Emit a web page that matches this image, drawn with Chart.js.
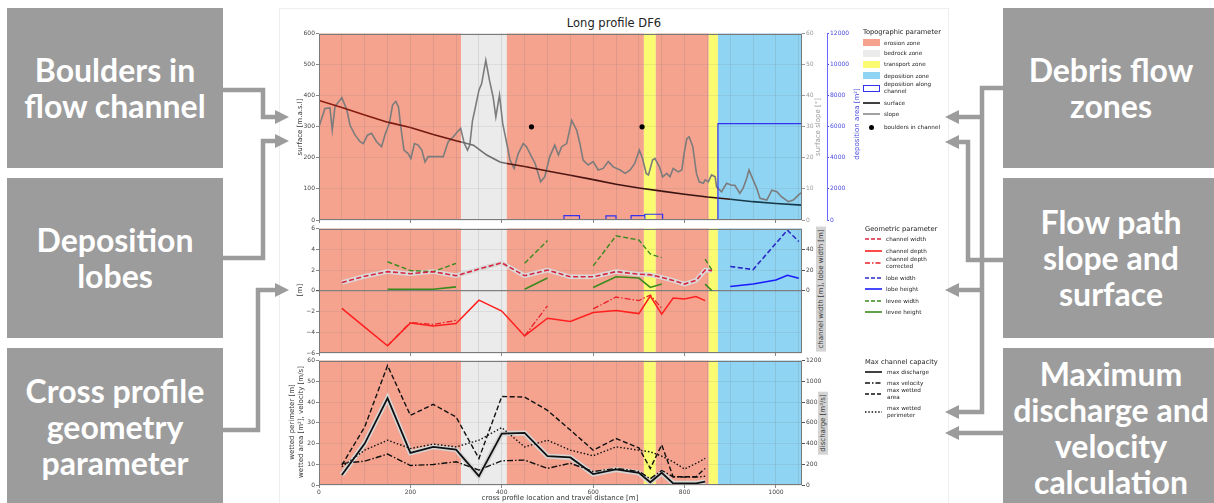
<!DOCTYPE html>
<html><head><meta charset="utf-8">
<script src="https://cdn.jsdelivr.net/npm/chart.js@4/dist/chart.umd.min.js"></script>
<style>
html,body{margin:0;padding:0}
body{width:1214px;height:503px;background:#fff;position:relative;overflow:hidden;font-family:"DejaVu Sans",sans-serif;color:#333}
.box{position:absolute;width:216px;background:#9c9c9c;color:#fff;font-family:Lato,"Open Sans",sans-serif;font-weight:700;font-size:32px;line-height:36px;display:flex;align-items:center;justify-content:center;text-align:center}
.fig{position:absolute;left:279px;top:8px;width:668px;height:500px;border:1px solid #eeeeee;background:#fff}
canvas{position:absolute}
.rot{position:absolute;white-space:nowrap;font-size:7px;line-height:8px;transform:translate(-50%,-50%) rotate(-90deg)}
.lbl{position:absolute;white-space:nowrap;font-size:7px;transform:translate(-50%,-50%)}
.lgt{position:absolute;white-space:nowrap;font-size:6.7px;color:#222;transform:translateY(-50%)}
.lgi{position:absolute;white-space:nowrap;font-size:5.7px;line-height:7px;color:#222;transform:translateY(-50%)}
.title{position:absolute;left:614px;top:23px;transform:translate(-50%,-50%);font-size:11.5px;color:#222;white-space:nowrap}
</style>
</head><body>
<div class="box" style="left:7px;top:8px;height:160px">Boulders in<br>flow channel</div>
<div class="box" style="left:7px;top:178px;height:160px">Deposition<br>lobes</div>
<div class="box" style="left:7px;top:348px;height:158px">Cross profile<br>geometry<br>parameter</div>
<div class="box" style="left:1003px;top:8px;height:160px">Debris flow<br>zones</div>
<div class="box" style="left:1003px;top:178px;height:160px">Flow path<br>slope and<br>surface</div>
<div class="box" style="left:1003px;top:348px;height:160px">Maximum<br>discharge and<br>velocity<br>calculation</div>
<div class="fig"></div>
<div class="title">Long profile DF6</div>
<canvas id="c1" width="600" height="197" style="left:280px;top:29px;width:600px;height:197px"></canvas>
<canvas id="c2" width="600" height="135" style="left:280px;top:224px;width:600px;height:135px"></canvas>
<canvas id="c3" width="600" height="147" style="left:280px;top:356px;width:600px;height:147px"></canvas>
<div class="rot" style="left:300px;top:127px">surface [m.a.s.l]</div>
<div class="rot" style="left:818px;top:127px;color:#999">surface slope [°]</div>
<div class="rot" style="left:857px;top:124px;color:#4a4ae0">deposition area [m²]</div>
<div class="rot" style="left:300px;top:290px">[m]</div>
<div class="rot" style="left:821px;top:289px;background:#d4d4d4;padding:1px 3px;color:#333">channel width [m], lobe width [m]</div>
<div class="rot" style="left:292px;top:422px">wetted perimeter [m]</div>
<div class="rot" style="left:301px;top:422px">wetted area [m²], velocity [m/s]</div>
<div class="rot" style="left:823px;top:423px;background:#d4d4d4;padding:1px 3px;color:#333">discharge [m³/s]</div>
<div class="lbl" style="left:560px;top:498px">cross profile location and travel distance [m]</div>
<div id="legends"></div>
<svg width="1214" height="503" style="position:absolute;left:0;top:0" id="arrows">
 <g fill="none" stroke="#9c9c9c" stroke-width="4.5" stroke-linejoin="miter">
  <polyline points="223,90 263,90 263,117 277,117"/>
  <polyline points="223,258 263,258 263,141 277,141"/>
  <polyline points="223,430 258,430 258,290 277,290"/>
  <polyline points="1003,88 982,88 982,412 957,412"/>
  <polyline points="982,117 957,117"/>
  <polyline points="982,290 957,290"/>
  <polyline points="1003,260 968,260 968,142 957,142"/>
  <polyline points="1003,433 957,433"/>
 </g>
 <g fill="#9c9c9c">
  <polygon points="275,110 289,117 275,124"/>
  <polygon points="275,134 289,141 275,148"/>
  <polygon points="275,283 289,290 275,297"/>
  <polygon points="959,110 945,117 959,124"/>
  <polygon points="959,135 945,142 959,149"/>
  <polygon points="959,283 945,290 959,297"/>
  <polygon points="959,405 945,412 959,419"/>
  <polygon points="959,426 945,433 959,440"/>
 </g>
</svg>
<script>
// ---------------- DATA ----------------
const xMax = 1057;
const xTickValues = [0,50,100,150,200,250,300,350,400,450,500,550,600,650,700,750,800,850,900,950,1000,1050];
const zoneStart = [0, 311, 411, 711, 737, 853, 873];
const zoneEnd   = [311, 411, 711, 737, 853, 873, 1057];
const zoneType  = ['erosion','bedrock','erosion','transport','erosion','transport','deposition'];

const surfaceX    = [0,50,100,150,200,250,300,311,338,367,396,411,450,500,550,600,650,700,750,800,850,900,950,1000,1057];
const surfaceElev = [385,362,338,315,298,275,255,251,241,209,187,182,172,158,144,130,115,103,93,83,74,67,59,53,48];

const slopeX = [0,13,24,29,35,50,61,68,79,90,97,106,115,126,137,144,154,161,168,174,179,186,195,201,209,217,225,232,239,250,265,272,279,283,294,303,310,318,325,330,336,341,350,356,365,373,381,387,395,402,411,418,427,436,447,454,465,473,485,494,505,516,524,531,542,553,564,571,578,589,600,611,622,633,644,659,670,681,691,701,708,716,721,730,735,745,752,761,768,775,786,794,799,805,810,818,826,832,841,845,852,859,867,870,881,892,903,910,921,928,936,941,950,958,965,980,991,1002,1012,1027,1038,1049,1056];
const slopeDeg = [30.0,35.9,36.1,28.9,36.5,39.4,35.4,30.5,27.3,25.2,24.6,27.3,27.9,25.2,23.6,27.3,31.1,37.0,38.2,36.4,30.0,22.5,21.4,19.8,24.6,24.1,22.5,18.7,20.4,20.4,20.4,20.4,23.6,25.2,26.8,28.4,29.5,24.6,22.5,24.1,32.1,35.4,41.8,43.9,51.4,45.0,39.6,33.2,40.2,31.1,24.6,19.3,16.6,21.4,24.6,23.6,20.4,18.2,12.3,13.9,20.4,24.1,20.9,23.6,24.6,32.1,28.9,24.6,19.3,17.7,18.8,16.1,16.6,18.8,17.1,16.1,15.0,16.1,18.2,22.5,19.8,15.0,14.5,19.3,19.8,17.1,13.9,15.0,13.9,16.6,15.5,16.1,21.4,26.2,26.8,23.6,15.0,12.3,11.8,12.9,12.3,14.5,13.9,10.7,9.1,11.8,11.2,11.2,8.6,10.2,13.4,16.1,12.9,10.2,7.0,6.4,9.6,9.1,7.5,5.9,6.4,8.0,8.8];

const boulderX = [465, 707];
const boulderY = [300, 300];

const depStart = [536, 628, 683, 713, 873];
const depEnd   = [570, 650, 713, 752, 1057];
const depArea  = [280, 260, 280, 370, 6200];

const profX          = [50,100,150,200,250,300,350,400,450,500,550,600,650,700,725,750,775,800,825,845,860];
const channelWidth   = [8,14,18.5,16.5,18.5,14.5,21,27,14.5,20,13.5,13.5,18.5,16,15.5,13,10,6.5,10,20,19.5];
const channelDepth   = [-1.7,-3.5,-5.3,-3.1,-3.4,-3.15,-0.9,-1.95,-4.35,-2.65,-2.95,-2.1,-1.9,-2.2,-0.5,-2.25,-0.7,-0.8,-0.55,-0.95,null];
const depthCorrected = [null,null,-5.3,-3.05,-3.25,-2.85,null,null,-4.35,-1.45,null,-1.75,-0.6,-0.95,-0.4,-1.7,null,null,null,null,null];
const leveeWidth     = [null,null,28,19.5,18.5,26.5,null,null,26.5,48.5,null,24,53,49,35.5,32,null,null,null,30.5,20];
const leveeHeight    = [null,null,0.15,0.15,0.15,0.38,null,null,0.15,1.23,null,0.32,1.35,1.23,0.32,0.65,null,null,null,0.65,0];

const lobeX      = [900, 950, 1000, 1025, 1050];
const lobeWidth  = [23.5, 20.5, null, 58.5, 47.5];
const lobeHeight = [0.42, 0.65, 1.05, 1.5, 1.22];

const maxDischarge = [96,400,838,310,368,342,86,496,502,278,266,106,150,118,26,118,16,16,16,32,null];
const maxVelocity  = [10.4,11.5,14.9,9.4,9.9,11.2,7.2,11.7,12,8,10.5,6.5,8,6.5,3,7,4,3.8,3.8,4.2,null];
const wettedArea   = [9.6,28,57.6,33.6,38.9,32.8,12.8,42.7,42.4,36,26.5,16.8,22.4,17.9,8,19.4,4,4,4,8,null];
const wettedPerim  = [8.8,16.8,21.6,17.6,19.7,18.4,21.6,27.7,18.4,21.6,16.8,14.1,18.4,16.8,16,13.9,11.2,7.7,10.4,12.8,null];

// ---------------- STYLE ----------------
const zoneColor = {erosion:'#f5a38f', bedrock:'#ebebeb', transport:'#fbfb72', deposition:'#8fd4f2'};
const DEP_BLUE = '#3232f0';
const DASH = [5,2.5], DASHDOT = [6,2,1.5,2], DOT = [1.5,2];

Chart.defaults.font.family = "'DejaVu Sans', sans-serif";
Chart.defaults.font.size = 6;
Chart.defaults.color = '#444';

function zoneAt(x){ for (let i=0;i<zoneStart.length;i++){ if (x>=zoneStart[i] && x<zoneEnd[i]) return zoneType[i]; } return 'deposition'; }

const zonesPlugin = {
  id:'zones',
  beforeDraw(chart){
    const {ctx, chartArea:a} = chart; const x = chart.scales.x;
    ctx.save();
    for (let i=0;i<zoneStart.length;i++){
      const x0 = x.getPixelForValue(zoneStart[i]), x1 = x.getPixelForValue(zoneEnd[i]);
      ctx.fillStyle = zoneColor[zoneType[i]];
      ctx.fillRect(x0, a.top, x1-x0, a.bottom-a.top);
    }
    ctx.restore();
  },
  afterDraw(chart){
    const {ctx, chartArea:a} = chart;
    ctx.save(); ctx.strokeStyle = '#7a7a7a'; ctx.lineWidth = 1;
    ctx.strokeRect(Math.round(a.left)+0.5, Math.round(a.top)+0.5, Math.round(a.right-a.left)-1, Math.round(a.bottom-a.top)-1);
    ctx.restore();
  }
};

const fixW = w => s => { s.width = w; };
const fixH = h => s => { s.height = h; };
const minus = v => String(v).replace('-', '\u2212');
const plain = v => String(v);

function xScale(showLabels, h){
  return {type:'linear', min:0, max:xMax,
    afterBuildTicks: s => { s.ticks = xTickValues.map(v => ({value:v})); },
    afterFit: fixH(h),
    ticks:{autoSkip:false, maxRotation:0, padding:1, color:'#444', callback: v => (showLabels && v%200===0) ? String(v) : ''},
    grid:{color:'rgba(100,100,100,0.22)', lineWidth:0.7, tickLength:3,
      tickColor: c => (c.tick && c.tick.value%200===0) ? '#555' : 'rgba(0,0,0,0)'},
    border:{display:false}};
}
function leftY(min,max,step,extraGrid){
  return {position:'left', min, max, afterFit: fixW(39),
    ticks:{stepSize:step, padding:1, color:'#444', callback: minus},
    grid:{color: c => (extraGrid && c.tick && c.tick.value===0) ? '#808080' : 'rgba(100,100,100,0.16)',
          lineWidth: c => (extraGrid && c.tick && c.tick.value===0) ? 1.2 : 0.7, tickLength:3, tickColor:'#555'},
    border:{display:false}};
}
function line(label, xs, ys, axis, color, width, dash, order, spanGaps){
  return {label, data: xs.map((x,i)=>({x, y: ys[i]})), yAxisID: axis, borderColor: color, borderWidth: width,
    borderDash: dash || [], pointRadius:0, fill:false, tension:0, order, spanGaps: !!spanGaps};
}
function surfaceColor(ctx){
  const x0 = ctx.p0.parsed.x, z = zoneAt(x0);
  if (z==='bedrock') return '#6e6e6e';
  if (z==='deposition') return '#17394a';
  if (z==='transport') return '#3a2a12';
  const t = Math.min(1, x0/711);
  return 'rgb(' + Math.round(140-85*t) + ',' + Math.round(28-10*t) + ',16)';
}
const baseOpts = {responsive:false, animation:false, devicePixelRatio:1,
  layout:{padding:{top:4,bottom:0,left:0,right:0}},
  plugins:{legend:{display:false}, tooltip:{enabled:false}}};

// deposition rectangles (outline) built from the arrays
const depPts = [];
depStart.forEach((s,i) => { depPts.push({x:s,y:0},{x:s,y:depArea[i]},{x:depEnd[i],y:depArea[i]},{x:depEnd[i],y:0},{x:depEnd[i],y:null}); });

new Chart(document.getElementById('c1'), {
  type:'line',
  data:{datasets:[
    {label:'boulders in channel', data: boulderX.map((x,i)=>({x,y:boulderY[i]})), yAxisID:'y', showLine:false,
      pointRadius:2.6, pointBackgroundColor:'#000', pointBorderWidth:0, order:0},
    {label:'deposition along channel', data: depPts, yAxisID:'yDep', borderColor:DEP_BLUE, borderWidth:1.2, pointRadius:0, spanGaps:false, order:1},
    Object.assign(line('surface', surfaceX, surfaceElev, 'y', '#7a1c12', 1.6, null, 2), {segment:{borderColor: surfaceColor}}),
    line('slope', slopeX, slopeDeg, 'ySlope', '#7c7c7c', 1.6, null, 3)
  ]},
  options: Object.assign({}, baseOpts, {scales:{
    x: xScale(false, 6),
    y: leftY(0,600,100,false),
    ySlope: {position:'right', min:0, max:60, afterFit: fixW(25), ticks:{stepSize:10, padding:1, color:'#9a9a9a', callback: plain},
      grid:{drawOnChartArea:false, tickLength:3, tickColor:'#9a9a9a'}, border:{display:false}},
    yDep: {position:'right', min:0, max:12000, afterFit: fixW(53), ticks:{stepSize:2000, padding:1, color:'#4a4ae0', callback: plain},
      grid:{drawOnChartArea:false, tickLength:2, tickColor:'#4a4ae0'}, border:{display:true, color:'#6a6aff', width:1}}
  }}),
  plugins:[zonesPlugin]
});

new Chart(document.getElementById('c2'), {
  type:'line',
  data:{datasets:[
    line('channel width', profX, channelWidth, 'yW', '#d8243e', 1.6, DASH, 1, true),
    line('channel depth', profX, channelDepth, 'y', '#ff1f1f', 1.5, null, 2, true),
    line('channel depth corrected', profX, depthCorrected, 'y', '#e8202a', 1.3, DASHDOT, 3, false),
    line('levee width', profX, leveeWidth, 'yW', '#3a8a1e', 1.4, DASH, 4, false),
    line('levee height', profX, leveeHeight, 'y', '#3a8a1e', 1.6, null, 5, false),
    line('lobe width', lobeX, lobeWidth, 'yW', '#2a2ac8', 1.6, DASH, 6, true),
    line('lobe height', lobeX, lobeHeight, 'y', '#1a1aff', 1.6, null, 7, true),
    line('channel width halo', profX, channelWidth, 'yW', '#d9d9d9', 4.5, null, 9, true)
  ]},
  options: Object.assign({}, baseOpts, {scales:{
    x: xScale(false, 6),
    y: leftY(-6,6,2,true),
    yW: {position:'right', min:-60, max:60, afterFit: fixW(78),
      ticks:{stepSize:20, padding:1, color:'#444', callback: v => (v>=0 && v<60) ? String(v) : ''},
      grid:{drawOnChartArea:false, tickLength:3, tickColor: c => (c.tick && c.tick.value>=0 && c.tick.value<60) ? '#555' : 'rgba(0,0,0,0)'},
      border:{display:false}}
  }}),
  plugins:[zonesPlugin]
});

new Chart(document.getElementById('c3'), {
  type:'line',
  data:{datasets:[
    line('max discharge', profX, maxDischarge, 'yQ', '#111', 1.8, null, 1, false),
    line('max velocity', profX, maxVelocity, 'y', '#111', 1.4, DASHDOT, 2, false),
    line('max wetted area', profX, wettedArea, 'y', '#111', 1.4, DASH, 3, false),
    line('max wetted perimeter', profX, wettedPerim, 'y', '#111', 1.4, DOT, 4, false),
    line('discharge halo', profX, maxDischarge, 'yQ', '#d6d6d6', 5, null, 9, false)
  ]},
  options: Object.assign({}, baseOpts, {scales:{
    x: xScale(true, 18),
    y: leftY(0,60,10,false),
    yQ: {position:'right', min:0, max:1200, afterFit: fixW(78), ticks:{stepSize:200, padding:1, color:'#444', callback: plain},
      grid:{drawOnChartArea:false, tickLength:3, tickColor:'#555'}, border:{display:false}}
  }}),
  plugins:[zonesPlugin]
});

// ---------------- LEGENDS (HTML) ----------------
function sw(kind, x, y, o){
  if (kind==='patch') return '<div style="position:absolute;left:'+x+'px;top:'+(y-3.5)+'px;width:17px;height:7px;box-sizing:border-box;background:'+(o.fill||'none')+';'+(o.stroke?'border:1.3px solid '+o.stroke+';':'')+'"></div>';
  if (kind==='dot') return '<div style="position:absolute;left:'+(x+6)+'px;top:'+(y-2.5)+'px;width:5px;height:5px;border-radius:50%;background:#000"></div>';
  return '<svg width="17" height="8" style="position:absolute;left:'+x+'px;top:'+(y-4)+'px"><line x1="0" y1="4" x2="17" y2="4" stroke="'+o.color+'" stroke-width="'+(o.w||1.6)+'" stroke-dasharray="'+(o.dash||'')+'"/></svg>';
}
function legend(x, tx, titleY, title, items){
  let h = '<div class="lgt" style="left:'+x+'px;top:'+titleY+'px">'+title+'</div>';
  items.forEach(it => { h += sw(it[0], x, it[1], it[3]) + '<div class="lgi" style="left:'+tx+'px;top:'+it[1]+'px">'+it[2]+'</div>'; });
  return h;
}
document.getElementById('legends').innerHTML =
  legend(863, 884, 31.7, 'Topographic parameter', [
    ['patch', 42.7, 'erosion zone', {fill:zoneColor.erosion}],
    ['patch', 53.3, 'bedrock zone', {fill:zoneColor.bedrock}],
    ['patch', 64.3, 'transport zone', {fill:zoneColor.transport}],
    ['patch', 75.7, 'deposition zone', {fill:zoneColor.deposition}],
    ['patch', 88, 'deposition along<br>channel', {fill:'#fff', stroke:DEP_BLUE}],
    ['line', 102.7, 'surface', {color:'#111'}],
    ['line', 114.3, 'slope', {color:'#8a8a8a'}],
    ['dot', 127.3, 'boulders in channel', {}]
  ]) +
  legend(865, 886, 229.3, 'Geometric parameter', [
    ['line', 239, 'channel width', {color:'#d8243e', dash:'4 2'}],
    ['line', 250.7, 'channel depth', {color:'#ff1f1f'}],
    ['line', 262.7, 'channel depth<br>corrected', {color:'#e8202a', dash:'5 2 1.5 2'}],
    ['line', 278.3, 'lobe width', {color:'#2a2ac8', dash:'4 2'}],
    ['line', 289.3, 'lobe height', {color:'#1a1aff'}],
    ['line', 300.7, 'levee width', {color:'#3a8a1e', dash:'4 2'}],
    ['line', 311.7, 'levee height', {color:'#3a8a1e'}]
  ]) +
  legend(865, 887, 361.7, 'Max channel capacity', [
    ['line', 371.7, 'max discharge', {color:'#111'}],
    ['line', 383.3, 'max velocity', {color:'#111', dash:'5 2 1.5 2'}],
    ['line', 394, 'max wetted<br>area', {color:'#111', dash:'4 2'}],
    ['line', 411.7, 'max wetted<br>perimeter', {color:'#111', dash:'1.5 1.8'}]
  ]);
</script>
</body></html>
